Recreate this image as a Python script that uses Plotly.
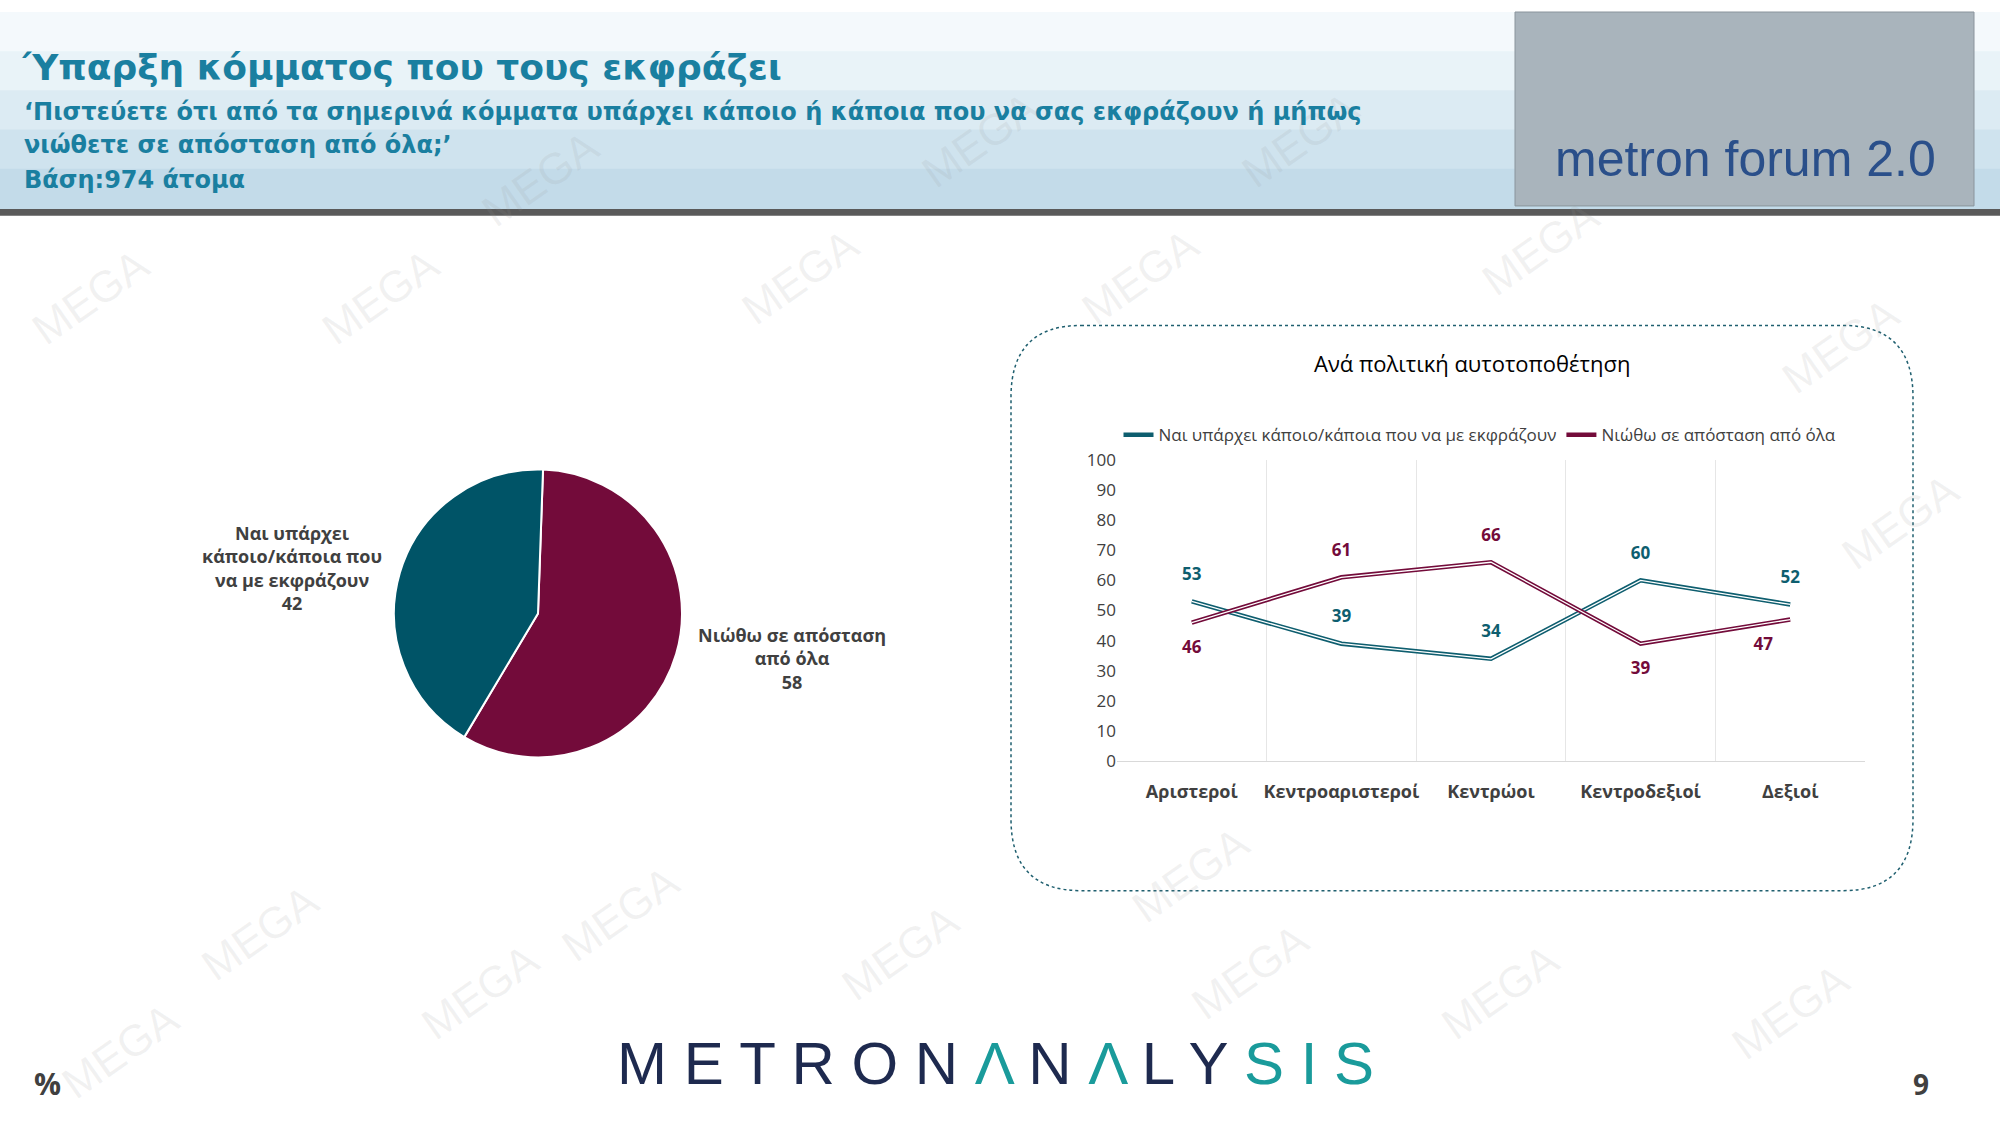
import plotly.graph_objects as go

# pie data
pie_labels = ["Νιώθω σε απόσταση<br>από όλα", "Ναι υπάρχει<br>κάποιο/κάποια που<br>να με εκφράζουν"]
pie_values = [58, 42]
pie_colors = ["#730B3A", "#005467"]

# line chart data
categories = ["Αριστεροί", "Κεντροαριστεροί", "Κεντρώοι", "Κεντροδεξιοί", "Δεξιοί"]
yes_vals = [53, 39, 34, 60, 52]
no_vals = [46, 61, 66, 39, 47]
yes_pos = ["top center", "top center", "top center", "top center", "top center"]
no_pos = ["bottom center", "top center", "top center", "bottom center", "bottom left"]
yes_name = "Ναι υπάρχει κάποιο/κάποια που να με εκφράζουν"
no_name = "Νιώθω σε απόσταση από όλα"
TEAL, MAROON = "#0E5E6F", "#730B3A"

W, H = 2000, 1125
px_x = lambda v: v / W
px_y = lambda v: 1 - v / H

fig = go.Figure()

fig.add_trace(go.Pie(
    labels=pie_labels, values=pie_values, sort=False, direction="clockwise", rotation=2,
    marker=dict(colors=pie_colors, line=dict(color="white", width=2)),
    textinfo="none", hoverinfo="label+value", showlegend=False,
    domain=dict(x=[px_x(391), px_x(685)], y=[px_y(761), px_y(467)]),
))

xs = list(range(len(categories)))
for name, vals, col, pos in [(yes_name, yes_vals, TEAL, yes_pos), (no_name, no_vals, MAROON, no_pos)]:
    fig.add_trace(go.Scatter(x=xs, y=vals, mode="lines", name=name,
                             line=dict(color=col, width=4.5), legendgroup=name))
    fig.add_trace(go.Scatter(x=xs, y=vals, mode="lines", showlegend=False,
                             line=dict(color="white", width=1.3), legendgroup=name, hoverinfo="skip"))
    # invisible markers push the labels away from the lines
    fig.add_trace(go.Scatter(x=xs, y=vals, mode="markers+text", showlegend=False,
                             marker=dict(size=26, opacity=0), legendgroup=name,
                             text=[f"<b>{v}</b>" for v in vals], textposition=pos,
                             textfont=dict(color=col, size=17, family="Open Sans"),
                             hoverinfo="skip"))

fig.update_layout(
    width=W, height=H, paper_bgcolor="white", plot_bgcolor="white",
    margin=dict(l=0, r=0, t=0, b=0),
    font=dict(family="Open Sans", color="#404040"),
    xaxis=dict(domain=[px_x(1117), px_x(1865)], range=[-0.5, 4.5],
               tickvals=xs, ticktext=[f"<b>{c}</b>" for c in categories], showgrid=False, zeroline=False,
               showline=True, linecolor="#d9d9d9", ticks="outside", ticklen=14, tickcolor="rgba(0,0,0,0)",
               tickfont=dict(size=18, color="#404040", family="Open Sans"),
               minor=dict(tickvals=[0.5, 1.5, 2.5, 3.5], showgrid=True, gridcolor="#e6e6e6")),
    yaxis=dict(domain=[px_y(765), px_y(457)], range=[0, 100], dtick=10,
               showgrid=False, zeroline=False, tickfont=dict(size=17)),
    legend=dict(orientation="h", x=px_x(1480), xanchor="center", y=px_y(432), yanchor="middle",
                font=dict(size=17, color="#404040"), bgcolor="rgba(0,0,0,0)"),
)

shapes = []
# header gradient band
band = ["#f4f9fc", "#e9f3f8", "#dcebf3", "#cfe3ee", "#c3dbe9"]
for i, c in enumerate(band):
    shapes.append(dict(type="rect", xref="paper", yref="paper", layer="below",
                       x0=0, x1=1, y0=px_y(40 * (i + 1) + 1), y1=px_y(40 * i), fillcolor=c, line_width=0))
shapes.append(dict(type="rect", xref="paper", yref="paper", x0=0, x1=1,
                   y0=px_y(208), y1=px_y(201), fillcolor="#5a5a5a", line_width=0))
shapes.append(dict(type="rect", xref="paper", yref="paper", x0=px_x(1515), x1=px_x(1974),
                   y0=px_y(198), y1=1, fillcolor="#a9b4bc", line=dict(color="#8a949c", width=1)))
# rounded dotted box
x0, x1, y0, y1, rx, ry = px_x(1011), px_x(1913), px_y(897), px_y(320), 0.035, 0.065
path = (f"M {x0+rx},{y1} L {x1-rx},{y1} Q {x1},{y1} {x1},{y1-ry} L {x1},{y0+ry} "
        f"Q {x1},{y0} {x1-rx},{y0} L {x0+rx},{y0} Q {x0},{y0} {x0},{y0+ry} "
        f"L {x0},{y1-ry} Q {x0},{y1} {x0+rx},{y1} Z")
shapes.append(dict(type="path", xref="paper", yref="paper", path=path,
                   line=dict(color="#1f5f6f", width=1.5, dash="dot")))
fig.update_layout(shapes=shapes)

ann = []
# watermarks
for wx, wy in [(90, 290), (380, 290), (800, 270), (1140, 270), (1540, 240), (1840, 340), (1900, 520),
               (260, 940), (480, 1000), (620, 920), (900, 960), (1250, 980), (1500, 1000), (1790, 1020),
               (120, 1060), (1190, 880), (1300, 130), (980, 130), (540, 170)]:
    ann.append(dict(x=px_x(wx), y=px_y(wy), text="MEGA", textangle=-35,
                    font=dict(size=44, color="rgba(150,150,150,0.13)", family="Liberation Sans")))
hdr = dict(color="#1a7fa0", family="DejaVu Sans")
ann += [
    dict(x=px_x(20), y=px_y(57), text="<b>Ύπαρξη κόμματος που τους εκφράζει</b>", xanchor="left",
         font=dict(size=36, **hdr)),
    dict(x=px_x(22), y=px_y(102), xanchor="left",
         text="<b>‘Πιστεύετε ότι από τα σημερινά κόμματα υπάρχει κάποιο ή κάποια που να σας εκφράζουν ή μήπως</b>",
         font=dict(size=24, **hdr)),
    dict(x=px_x(22), y=px_y(136), xanchor="left", text="<b>νιώθετε σε απόσταση από όλα;’</b>",
         font=dict(size=24, **hdr)),
    dict(x=px_x(22), y=px_y(171), xanchor="left", text="<b>Βάση:974 άτομα</b>",
         font=dict(size=24, **hdr)),
    dict(x=px_x(1745), y=px_y(150), text="metron forum 2.0",
         font=dict(size=50, color="#2a4f8a", family="Liberation Sans")),
    dict(x=px_x(292), y=px_y(568), text="<b>Ναι υπάρχει<br>κάποιο/κάποια που<br>να με εκφράζουν<br>42</b>",
         font=dict(size=18, color="#404040")),
    dict(x=px_x(792), y=px_y(660), text="<b>Νιώθω σε απόσταση<br>από όλα<br>58</b>",
         font=dict(size=18, color="#404040")),
    dict(x=px_x(1472), y=px_y(358), text="Ανά πολιτική αυτοτοποθέτηση",
         font=dict(size=22, color="#000000")),
    dict(x=px_x(995), y=px_y(1073), text=(
        "<span style='color:#1e2a4f'>M E T R O N </span><span style='color:#1a9b9b'>Λ</span>"
        "<span style='color:#1e2a4f'> N </span><span style='color:#1a9b9b'>Λ</span>"
        "<span style='color:#1e2a4f'> L Y </span><span style='color:#1a9b9b'>S I S</span>"),
        font=dict(size=60, family="Liberation Sans")),
    dict(x=px_x(47), y=px_y(1094), text="<b>%</b>", font=dict(size=30, color="#404040")),
    dict(x=px_x(1921), y=px_y(1094), text="<b>9</b>", font=dict(size=28, color="#404040")),
]
for a in ann:
    a.setdefault("xref", "paper")
    a.setdefault("yref", "paper")
    a.setdefault("xanchor", "center")
    a.setdefault("yanchor", "middle")
    a.setdefault("showarrow", False)
fig.update_layout(annotations=ann)

fig.write_html("out.html", config={"displayModeBar": False},
               post_script="document.body.style.margin='0';")
